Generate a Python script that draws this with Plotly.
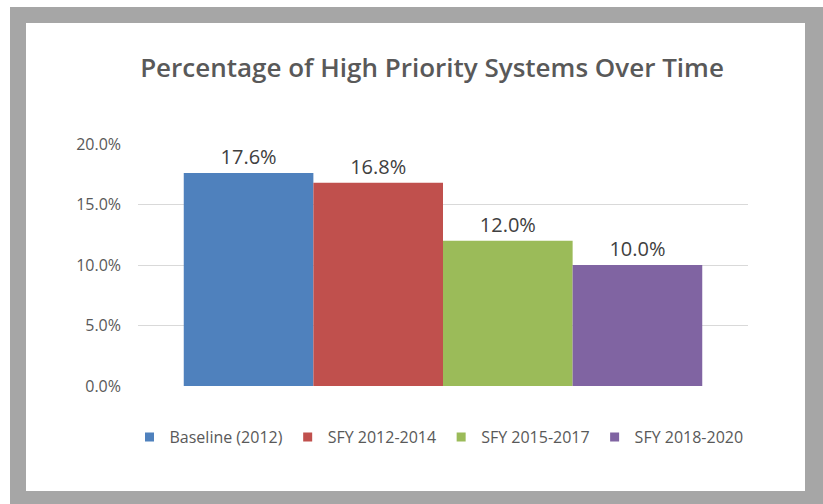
import plotly.graph_objects as go

# ---- data ----
series_names = ["Baseline (2012)", "SFY 2012-2014", "SFY 2015-2017", "SFY 2018-2020"]
series_values = [17.6, 16.8, 12.0, 10.0]
series_colors = ["#4F81BD", "#C0504D", "#9BBB59", "#8064A2"]
category = ["High Priority Systems"]
y_ticks = [0, 5, 10, 15, 20]

# ---- layout geometry (pixels) ----
W, H = 823, 504
ML, MR, MT, MB = 138, 75, 144, 118
PW, PH = W - ML - MR, H - MT - MB


def px_x(px):
    return (px - ML) / PW


def px_y(py):
    return (H - MB - py) / PH


FONT = "Open Sans"

fig = go.Figure()
for name, val, col in zip(series_names, series_values, series_colors):
    fig.add_trace(go.Bar(
        x=category, y=[val], name=name,
        marker=dict(color=col, line=dict(width=0)),
        texttemplate="%{y:.1f}%", textposition="outside",
        textfont=dict(family=FONT, size=20, color="#404040"),
        showlegend=False, hoverinfo="skip",
    ))
    # legend entry with a small square swatch
    fig.add_trace(go.Scatter(
        x=[None], y=[None], mode="markers", name=name,
        marker=dict(symbol="square", size=9, color=col),
        showlegend=True,
    ))

# frame: grey border with white interior
shapes = [
    dict(type="rect", xref="paper", yref="paper", layer="below",
         x0=px_x(10), x1=px_x(823), y0=px_y(504), y1=px_y(7),
         fillcolor="#A6A6A6", line=dict(width=0)),
    dict(type="rect", xref="paper", yref="paper", layer="below",
         x0=px_x(26), x1=px_x(805), y0=px_y(491), y1=px_y(23),
         fillcolor="#FFFFFF", line=dict(width=0)),
]

fig.update_layout(
    width=W, height=H,
    margin=dict(l=ML, r=MR, t=MT, b=MB, pad=0),
    paper_bgcolor="#FFFFFF", plot_bgcolor="rgba(0,0,0,0)",
    barmode="group", bargap=0.15, bargroupgap=0,
    shapes=shapes,
    title=dict(
        text="Percentage of High Priority Systems Over Time",
        font=dict(family=FONT, size=26, color="#595959", weight=600),
        xref="container", yref="container",
        x=432 / W, y=1 - 68 / H, xanchor="center", yanchor="middle",
    ),
    legend=dict(
        orientation="h", x=px_x(748.5), y=px_y(437),
        xanchor="right", yanchor="middle",
        font=dict(family=FONT, size=16, color="#595959"),
        bgcolor="rgba(0,0,0,0)", itemclick=False, itemdoubleclick=False,
        tracegroupgap=0,
    ),
    xaxis=dict(showticklabels=False, showgrid=False, zeroline=False,
               showline=False, ticks=""),
    yaxis=dict(range=[0, 20], tickvals=y_ticks,
               ticktext=[f"{v:.1f}%" for v in y_ticks],
               showgrid=True, gridcolor="#D9D9D9", gridwidth=1,
               zeroline=False, showline=False, ticks="",
               ticklabelstandoff=16,
               tickfont=dict(family=FONT, size=16, color="#595959")),
    font=dict(family=FONT),
)

fig.write_html("out.html")
